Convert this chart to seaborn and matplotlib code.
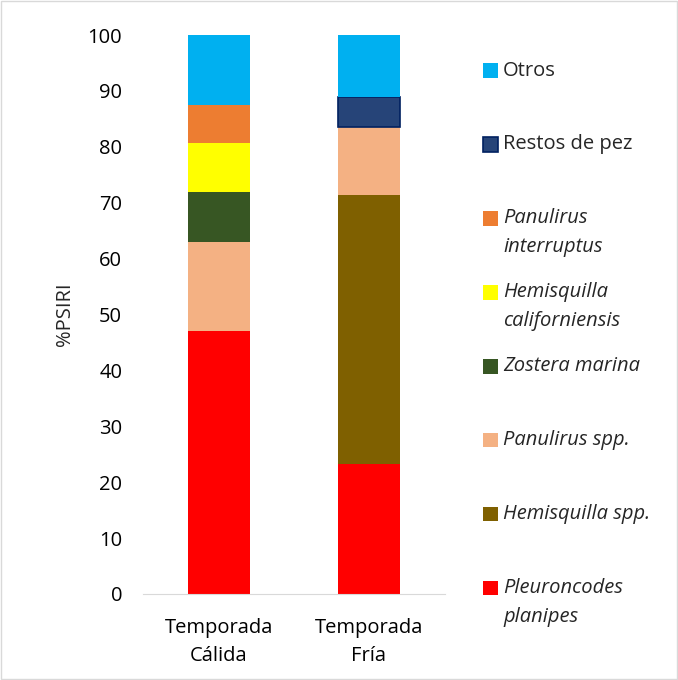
import pandas as pd
import matplotlib.pyplot as plt
import seaborn as sns
from matplotlib.patches import Rectangle

seasons = ['Temporada\nCálida', 'Temporada\nFría']

# stacking order, bottom to top
items = ['Pleuroncodes\nplanipes', 'Hemisquilla spp.', 'Panulirus spp.', 'Zostera marina',
         'Hemisquilla\ncaliforniensis', 'Panulirus\ninterruptus', 'Restos de pez', 'Otros']
calida = [47.1, 0.0, 15.8, 9.0, 8.7, 6.8, 0.0, 12.6]
fria = [23.3, 48.1, 12.1, 0.0, 0.0, 0.0, 5.5, 11.0]
colors = ['#FF0000', '#7F6000', '#F4B183', '#375623', '#FFFF00', '#ED7D31', '#264478', '#00B0F0']
italic = [True, True, True, True, True, True, False, False]

sns.set_style('white')
plt.rcParams['font.family'] = ['Open Sans', 'DejaVu Sans']
FS = 14.5

df = pd.DataFrame({'season': seasons * len(items),
                   'item': [it for it in items for _ in seasons],
                   'value': [v for pair in zip(calida, fria) for v in pair]})

W, H = 678, 680
fig = plt.figure(figsize=(W / 100, H / 100), dpi=100)
ax = fig.add_axes([0.211, 0.1265, 0.445, 0.822])

bottom = [0.0, 0.0]
for it, col in zip(items, colors):
    sub = df[df['item'] == it]
    fish = it == 'Restos de pez'
    sns.barplot(data=sub, x='season', y='value', color=col, width=0.41,
                bottom=bottom, ax=ax, edgecolor='#002060' if fish else col,
                linewidth=1.2 if fish else 0, saturation=1)
    bottom = [b + v for b, v in zip(bottom, sub['value'].tolist())]

# empty segments should leave no outline behind
for p in ax.patches:
    if p.get_height() == 0:
        p.set_linewidth(0)

ax.set_ylim(0, 100)
ax.set_xlim(-0.505, 1.505)
ax.set_yticks(range(0, 101, 10))
ax.tick_params(axis='both', length=0, labelsize=FS, colors='#000000')
ax.tick_params(axis='y', pad=15)
ax.tick_params(axis='x', pad=17)
for lab in ax.get_xticklabels():
    lab.set_linespacing(1.55)
ax.set_xlabel('')
ax.set_ylabel('%PSIRI', fontsize=FS, labelpad=9)
for s in ['top', 'right', 'left']:
    ax.spines[s].set_visible(False)
ax.spines['bottom'].set_color('#D9D9D9')

# legend, top entry first; first text line centred on the swatch
y0, step, line = 70.6, 73.9, 29
for i, (it, col, itl) in enumerate(zip(items[::-1], colors[::-1], italic[::-1])):
    yc = y0 + step * i
    fish = it == 'Restos de pez'
    fig.add_artist(Rectangle((483 / W, 1 - (yc + 7.3) / H), 14.6 / W, 14.6 / H,
                             transform=fig.transFigure, facecolor=col,
                             edgecolor='#002060' if fish else col, linewidth=1.2 if fish else 0))
    for j, part in enumerate(it.split('\n')):
        fig.text(503 / W, 1 - (yc + j * line) / H, part, fontsize=FS, ha='left', va='center',
                 fontstyle='italic' if itl else 'normal')

fig.add_artist(Rectangle((0.002, 0.002), 0.996, 0.996, transform=fig.transFigure,
                         fill=False, edgecolor='#D9D9D9', linewidth=1))

fig.savefig('out.png', dpi=100)
